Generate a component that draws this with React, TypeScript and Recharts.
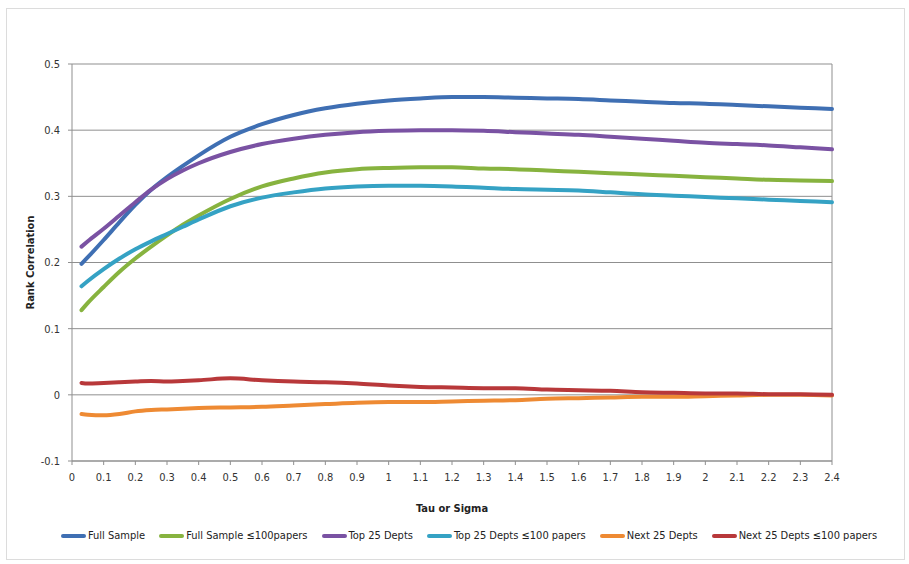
import { LineChart, Line, XAxis, YAxis, CartesianGrid, ReferenceLine, Label } from 'recharts';

// bandwidth values (tau / sigma) at which each rank correlation was computed
const TAU = [0.03, 0.05, 0.1, 0.15, 0.2, 0.25, 0.3, 0.35, 0.4, 0.5, 0.6, 0.7, 0.8, 0.9, 1.0, 1.1, 1.2, 1.3, 1.4, 1.5, 1.6, 1.7, 1.8, 1.9, 2.0, 2.1, 2.2, 2.3, 2.4];

const fullSample = [0.198, 0.208, 0.234, 0.261, 0.287, 0.31, 0.329, 0.346, 0.362, 0.39, 0.409, 0.423, 0.433, 0.44, 0.445, 0.448, 0.45, 0.45, 0.449, 0.448, 0.447, 0.445, 0.443, 0.441, 0.44, 0.438, 0.436, 0.434, 0.432];
const fullSmall = [0.128, 0.139, 0.163, 0.186, 0.206, 0.224, 0.241, 0.257, 0.271, 0.296, 0.315, 0.327, 0.336, 0.341, 0.343, 0.344, 0.344, 0.342, 0.341, 0.339, 0.337, 0.335, 0.333, 0.331, 0.329, 0.327, 0.325, 0.324, 0.323];
const top25 = [0.224, 0.232, 0.251, 0.271, 0.291, 0.31, 0.326, 0.339, 0.35, 0.367, 0.379, 0.387, 0.393, 0.397, 0.399, 0.4, 0.4, 0.399, 0.397, 0.395, 0.393, 0.39, 0.387, 0.384, 0.381, 0.379, 0.377, 0.374, 0.371];
const top25Small = [0.164, 0.172, 0.19, 0.206, 0.22, 0.232, 0.243, 0.254, 0.265, 0.285, 0.298, 0.306, 0.312, 0.315, 0.316, 0.316, 0.315, 0.313, 0.311, 0.31, 0.309, 0.306, 0.303, 0.301, 0.299, 0.297, 0.295, 0.293, 0.291];
const next25 = [-0.029, -0.03, -0.031, -0.029, -0.025, -0.023, -0.022, -0.021, -0.02, -0.019, -0.018, -0.016, -0.014, -0.012, -0.011, -0.011, -0.01, -0.009, -0.008, -0.006, -0.005, -0.004, -0.003, -0.003, -0.002, -0.001, 0.0, 0.0, -0.001];
const next25Small = [0.018, 0.017, 0.018, 0.019, 0.02, 0.021, 0.02, 0.021, 0.022, 0.025, 0.022, 0.02, 0.019, 0.017, 0.014, 0.012, 0.011, 0.01, 0.01, 0.008, 0.007, 0.006, 0.004, 0.003, 0.002, 0.002, 0.001, 0.001, 0.0];

const X_TICKS = [0, 0.1, 0.2, 0.3, 0.4, 0.5, 0.6, 0.7, 0.8, 0.9, 1, 1.1, 1.2, 1.3, 1.4, 1.5, 1.6, 1.7, 1.8, 1.9, 2, 2.1, 2.2, 2.3, 2.4];
const Y_TICKS = [-0.1, 0, 0.1, 0.2, 0.3, 0.4, 0.5];

const SERIES = [
  { key: 'full', name: 'Full Sample', color: '#3f6fb3', values: fullSample },
  { key: 'fullSmall', name: 'Full Sample \u2264100papers', color: '#87b33f', values: fullSmall },
  { key: 'top25', name: 'Top 25 Depts', color: '#7a52a3', values: top25 },
  { key: 'top25Small', name: 'Top 25 Depts \u2264100 papers', color: '#35a2c4', values: top25Small },
  { key: 'next25', name: 'Next 25 Depts', color: '#ee8a33', values: next25 },
  { key: 'next25Small', name: 'Next 25 Depts \u2264100 papers', color: '#b8383a', values: next25Small },
];

const data = TAU.map((x, i) => {
  const row: Record<string, number> = { x };
  SERIES.forEach((s) => {
    row[s.key] = s.values[i];
  });
  return row;
});

const FONT = "'Liberation Sans Narrow', 'DejaVu Sans Condensed', 'Liberation Sans', sans-serif";
const AXIS = '#8f8f8f';

export default function App() {
  return (
    <div style={{ position: 'absolute', left: 0, top: 0, width: 909, height: 564, background: '#fff', fontFamily: FONT }}>
      <div style={{ position: 'absolute', left: 6, top: 8, width: 897, height: 550, border: '1px solid #dcdcdc' }} />
      <LineChart width={909} height={564} data={data} margin={{ top: 64, right: 77, bottom: 73, left: 0 }}>
        <CartesianGrid vertical={false} stroke={AXIS} />
        <XAxis
          dataKey="x"
          type="number"
          domain={[0, 2.4]}
          ticks={X_TICKS}
          interval={0}
          height={30}
          stroke={AXIS}
          tickSize={4}
          tickMargin={8}
          tick={{ fill: '#333', fontSize: 11, fontFamily: FONT }}
        >
          <Label value="Tau or Sigma" position="insideBottom" offset={-21} style={{ fontWeight: 'bold', fontSize: 11, fill: '#222', fontFamily: FONT }} />
        </XAxis>
        <YAxis
          type="number"
          domain={[-0.1, 0.5]}
          ticks={Y_TICKS}
          interval={0}
          width={72}
          stroke={AXIS}
          tickSize={4}
          tickMargin={8}
          tick={{ fill: '#333', fontSize: 11, fontFamily: FONT }}
        >
          <Label value="Rank Correlation" angle={-90} position="insideLeft" offset={30} style={{ fontWeight: 'bold', fontSize: 11, fill: '#222', fontFamily: FONT, textAnchor: 'middle' }} />
        </YAxis>
        <ReferenceLine x={2.4} stroke={AXIS} />
        {SERIES.map((s) => (
          <Line
            key={s.key}
            dataKey={s.key}
            name={s.name}
            type="monotone"
            stroke={s.color}
            strokeWidth={4}
            strokeLinecap="round"
            dot={false}
            isAnimationActive={false}
          />
        ))}
      </LineChart>
      <div style={{ position: 'absolute', left: 61, top: 529, display: 'flex', alignItems: 'center', gap: 14, fontSize: 11, color: '#222', whiteSpace: 'nowrap' }}>
        {SERIES.map((s) => (
          <div key={s.key} style={{ display: 'flex', alignItems: 'center' }}>
            <div style={{ width: 25, height: 4, borderRadius: 2, background: s.color, marginRight: 2 }} />
            <span>{s.name}</span>
          </div>
        ))}
      </div>
    </div>
  );
}
